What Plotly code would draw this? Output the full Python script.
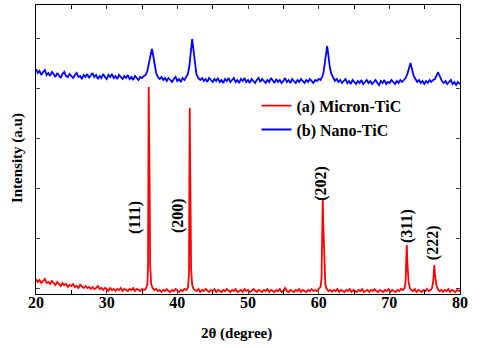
import plotly.graph_objects as go

# ---- data: (2theta, intensity a.u.) ----
red_points = [
    (20.00, 15), (20.25, 12), (20.50, 14), (20.75, 11), (21.00, 13), (21.25, 15), (21.50, 11), (21.75, 12),
    (22.00, 10), (22.25, 13), (22.50, 11), (22.75, 9), (23.00, 12), (23.25, 10), (23.50, 8), (23.75, 11),
    (24.00, 9), (24.25, 10), (24.50, 7), (24.75, 9), (25.00, 8), (25.25, 10), (25.50, 7), (25.75, 8),
    (26.00, 6), (26.25, 9), (26.50, 7), (26.75, 6), (27.00, 8), (27.25, 6), (27.50, 7), (27.75, 5),
    (28.00, 7), (28.25, 5), (28.50, 6), (28.75, 8), (29.00, 5), (29.25, 6), (29.50, 4), (29.75, 6),
    (30.00, 5), (30.25, 3), (30.50, 6), (30.75, 4), (31.00, 5), (31.25, 3), (31.50, 5), (31.75, 4),
    (32.00, 6), (32.25, 3), (32.50, 5), (32.75, 4), (33.00, 3), (33.25, 5), (33.50, 4), (33.75, 6),
    (34.00, 3), (34.25, 5), (34.50, 4), (34.75, 3), (35.00, 5), (35.25, 4), (35.50, 5), (35.75, 9),
    (35.85, 25), (35.95, 207), (36.02, 150), (36.08, 110), (36.15, 30), (36.30, 10), (36.50, 6), (36.75, 4),
    (37.00, 5), (37.25, 3), (37.50, 4), (37.75, 2), (38.00, 4), (38.25, 3), (38.50, 5), (38.75, 3),
    (39.00, 2), (39.25, 4), (39.50, 3), (39.75, 5), (40.00, 3), (40.25, 2), (40.50, 4), (40.75, 3),
    (41.00, 5), (41.25, 4), (41.50, 6),
    (41.65, 20), (41.75, 186), (41.82, 130), (41.88, 95), (41.95, 25), (42.10, 9), (42.30, 5), (42.50, 4),
    (42.75, 3), (43.00, 5), (43.25, 2), (43.50, 4), (43.75, 3), (44.00, 5), (44.25, 3), (44.50, 2),
    (44.75, 4), (45.00, 3), (45.25, 5), (45.50, 2), (45.75, 4), (46.00, 3), (46.25, 2), (46.50, 4),
    (46.75, 3), (47.00, 5), (47.25, 3), (47.50, 2), (47.75, 4), (48.00, 3), (48.25, 5), (48.50, 2),
    (48.75, 3), (49.00, 4), (49.25, 2), (49.50, 5), (49.75, 3), (50.00, 4), (50.25, 2), (50.50, 3),
    (50.75, 5), (51.00, 3), (51.25, 2), (51.50, 4), (51.75, 3), (52.00, 2), (52.25, 4), (52.50, 3),
    (52.75, 5), (53.00, 2), (53.25, 4), (53.50, 3), (53.75, 2), (54.00, 4), (54.25, 3), (54.50, 5),
    (54.75, 2), (55.00, 3), (55.25, 6), (55.50, 3), (55.75, 2), (56.00, 4), (56.25, 3), (56.50, 2),
    (56.75, 4), (57.00, 3), (57.25, 5), (57.50, 2), (57.75, 4), (58.00, 3), (58.25, 2), (58.50, 4),
    (58.75, 3), (59.00, 5), (59.25, 3), (59.50, 4), (59.75, 3), (60.00, 5), (60.25, 7),
    (60.40, 15), (60.50, 60), (60.58, 94), (60.65, 70), (60.72, 50), (60.80, 22), (60.95, 9), (61.15, 5),
    (61.40, 3), (61.65, 4), (61.90, 2), (62.15, 4), (62.40, 3), (62.65, 5), (62.90, 2), (63.15, 4),
    (63.40, 3), (63.65, 2), (63.90, 4), (64.15, 3), (64.40, 5), (64.65, 2), (64.90, 4), (65.15, 3),
    (65.40, 2), (65.65, 4), (65.90, 3), (66.15, 5), (66.40, 2), (66.65, 3), (66.90, 4), (67.15, 2),
    (67.40, 4), (67.65, 3), (67.90, 5), (68.15, 3), (68.40, 2), (68.65, 4), (68.90, 3), (69.15, 2),
    (69.40, 4), (69.65, 3), (69.90, 5), (70.15, 2), (70.40, 4), (70.65, 3), (70.90, 2), (71.15, 4),
    (71.40, 3), (71.65, 5), (71.90, 4), (72.15, 6),
    (72.30, 12), (72.40, 35), (72.47, 49), (72.55, 32), (72.62, 22), (72.72, 12), (72.90, 6), (73.10, 4),
    (73.35, 3), (73.60, 5), (73.85, 2), (74.10, 4), (74.35, 3), (74.60, 2), (74.85, 4), (75.10, 3),
    (75.35, 5), (75.60, 3), (75.85, 4), (76.05, 6),
    (76.20, 12), (76.30, 24), (76.37, 29), (76.45, 20), (76.53, 15), (76.65, 9), (76.85, 5),
    (77.10, 3), (77.35, 4), (77.60, 2), (77.85, 4), (78.10, 3), (78.35, 5), (78.60, 2), (78.85, 4),
    (79.10, 3), (79.35, 2), (79.60, 4), (79.85, 3), (80.00, 4),
]

blue_points = [
    (20.00, 225), (20.25, 221), (20.50, 223), (20.75, 219), (21.00, 222), (21.25, 224), (21.50, 219), (21.75, 221),
    (22.00, 218), (22.25, 222), (22.50, 220), (22.75, 217), (23.00, 221), (23.25, 219), (23.50, 216), (23.75, 220),
    (24.00, 222), (24.25, 218), (24.50, 217), (24.75, 220), (25.00, 218), (25.25, 216), (25.50, 219), (25.75, 221),
    (26.00, 217), (26.25, 218), (26.50, 215), (26.75, 219), (27.00, 217), (27.25, 220), (27.50, 216), (27.75, 218),
    (28.00, 221), (28.25, 217), (28.50, 219), (28.75, 215), (29.00, 218), (29.25, 216), (29.50, 220), (29.75, 217),
    (30.00, 215), (30.25, 219), (30.50, 217), (30.75, 220), (31.00, 216), (31.25, 218), (31.50, 215), (31.75, 219),
    (32.00, 217), (32.25, 215), (32.50, 218), (32.75, 216), (33.00, 219), (33.25, 215), (33.50, 217), (33.75, 214),
    (34.00, 218), (34.25, 216), (34.50, 214), (34.75, 217), (35.00, 216), (35.25, 218),
    (35.50, 219), (35.75, 223), (35.95, 230), (36.15, 238), (36.30, 243), (36.40, 245), (36.50, 242), (36.65, 236),
    (36.80, 228), (37.00, 221), (37.25, 217),
    (37.50, 215), (37.75, 217), (38.00, 214), (38.25, 216), (38.50, 213), (38.75, 216), (39.00, 214), (39.25, 212),
    (39.50, 215), (39.75, 217), (40.00, 213), (40.25, 215), (40.50, 212), (40.75, 216), (41.00, 214), (41.25, 217),
    (41.50, 220), (41.70, 228), (41.85, 240), (42.00, 251), (42.10, 255), (42.20, 249), (42.35, 238), (42.50, 228),
    (42.70, 220), (42.95, 216),
    (43.25, 214), (43.50, 216), (43.75, 213), (44.00, 215), (44.25, 212), (44.50, 216), (44.75, 214), (45.00, 212),
    (45.25, 215), (45.50, 213), (45.75, 216), (46.00, 212), (46.25, 214), (46.50, 211), (46.75, 215), (47.00, 213),
    (47.25, 216), (47.50, 212), (47.75, 214), (48.00, 216), (48.25, 212), (48.50, 214), (48.75, 211), (49.00, 215),
    (49.25, 213), (49.50, 216), (49.75, 212), (50.00, 214), (50.25, 211), (50.50, 215), (50.75, 213), (51.00, 211),
    (51.25, 214), (51.50, 216), (51.75, 212), (52.00, 215), (52.25, 213), (52.50, 211), (52.75, 214), (53.00, 212),
    (53.25, 216), (53.50, 213), (53.75, 211), (54.00, 215), (54.25, 212), (54.50, 214), (54.75, 211), (55.00, 213),
    (55.25, 216), (55.50, 212), (55.75, 214), (56.00, 211), (56.25, 215), (56.50, 213), (56.75, 211), (57.00, 214),
    (57.25, 212), (57.50, 215), (57.75, 213), (58.00, 211), (58.25, 214), (58.50, 212), (58.75, 215), (59.00, 213),
    (59.25, 211), (59.50, 214), (59.75, 213), (60.00, 215), (60.25, 214),
    (60.50, 217), (60.70, 222), (60.85, 230), (61.00, 240), (61.10, 246), (61.20, 248), (61.30, 243), (61.45, 234),
    (61.60, 226), (61.80, 220), (62.05, 216),
    (62.30, 213), (62.55, 215), (62.80, 212), (63.05, 214), (63.30, 211), (63.55, 213), (63.80, 215), (64.05, 211),
    (64.30, 213), (64.55, 210), (64.80, 214), (65.05, 212), (65.30, 210), (65.55, 213), (65.80, 211), (66.05, 214),
    (66.30, 210), (66.55, 212), (66.80, 214), (67.05, 211), (67.30, 213), (67.55, 210), (67.80, 212), (68.05, 214),
    (68.30, 211), (68.55, 209), (68.80, 213), (69.05, 211), (69.30, 214), (69.55, 210), (69.80, 212), (70.05, 211),
    (70.30, 214), (70.55, 212), (70.80, 210), (71.05, 213), (71.30, 211), (71.55, 214), (71.80, 212), (72.05, 214),
    (72.30, 216), (72.55, 220), (72.75, 225), (72.90, 229), (73.00, 231), (73.10, 228), (73.25, 223), (73.45, 218),
    (73.70, 215),
    (73.95, 212), (74.20, 214), (74.45, 211), (74.70, 213), (74.95, 210), (75.20, 213), (75.45, 211), (75.70, 214),
    (75.95, 212), (76.20, 214),
    (76.45, 215), (76.65, 218), (76.80, 221), (76.90, 222), (77.00, 220), (77.20, 216), (77.45, 213),
    (77.70, 211), (77.95, 213), (78.20, 210), (78.45, 212), (78.70, 214), (78.95, 210), (79.20, 212), (79.45, 209),
    (79.70, 212), (80.00, 210),
]

red_x = [p[0] for p in red_points]
red_y = [p[1] for p in red_points]
blue_x = [p[0] for p in blue_points]
blue_y = [p[1] for p in blue_points]

peak_labels = ["(111)", "(200)", "(202)", "(311)", "(222)"]
label_x = [34.0, 40.1, 60.3, 72.5, 76.2]
label_y = [77, 78, 111, 68, 51]

series_names = ["(a) Micron-TiC", "(b) Nano-TiC"]
x_ticks = [20, 30, 40, 50, 60, 70, 80]
y_ticks = [6, 56, 106, 156, 206, 256]

FONT = "Liberation Serif, Times New Roman, serif"

fig = go.Figure()
fig.add_trace(go.Scatter(x=red_x, y=red_y, mode="lines", name=series_names[0],
                         line=dict(color="#ff0000", width=1.8)))
fig.add_trace(go.Scatter(x=blue_x, y=blue_y, mode="lines", name=series_names[1],
                         line=dict(color="#0000ff", width=1.8)))

for t, x, y in zip(peak_labels, label_x, label_y):
    fig.add_annotation(x=x, y=y, text=t, textangle=-90, showarrow=False,
                       font=dict(family=FONT, size=16, color="black", weight="bold"))

# axis titles (placed as in the reference)
fig.add_annotation(xref="paper", yref="paper", x=0.472, y=-0.135, yanchor="middle",
                   text="2θ (degree)", showarrow=False,
                   font=dict(family=FONT, size=15, color="black", weight="bold"))
fig.add_annotation(xref="paper", yref="paper", x=-0.045, y=0.47, xanchor="center",
                   text="Intensity (a.u)", textangle=-90, showarrow=False,
                   font=dict(family=FONT, size=15, color="black", weight="bold"))

fig.update_layout(
    width=480, height=348,
    margin=dict(l=36, r=20, t=5, b=54),
    paper_bgcolor="white", plot_bgcolor="white",
    font=dict(family=FONT, color="black"),
    showlegend=True,
    legend=dict(x=0.52, y=0.71, xanchor="left", yanchor="top",
                bgcolor="rgba(0,0,0,0)", tracegroupgap=0,
                font=dict(family=FONT, size=16, color="black", weight="bold"),
                itemwidth=30),
)
fig.update_xaxes(range=[20, 80], tickvals=x_ticks, ticks="inside", ticklen=4,
                 showline=True, linecolor="black", linewidth=1.2, mirror="ticks",
                 showgrid=False, zeroline=False, ticklabelstandoff=-6,
                 minor=dict(dtick=5, ticks="inside", ticklen=4, tickcolor="black"),
                 tickfont=dict(family=FONT, size=16, color="black", weight="bold"))
fig.update_yaxes(range=[0, 289], tickvals=y_ticks, showticklabels=False,
                 ticks="inside", ticklen=4,
                 showline=True, linecolor="black", linewidth=1.2, mirror="ticks",
                 showgrid=False, zeroline=False)

fig.write_html("out.html")
